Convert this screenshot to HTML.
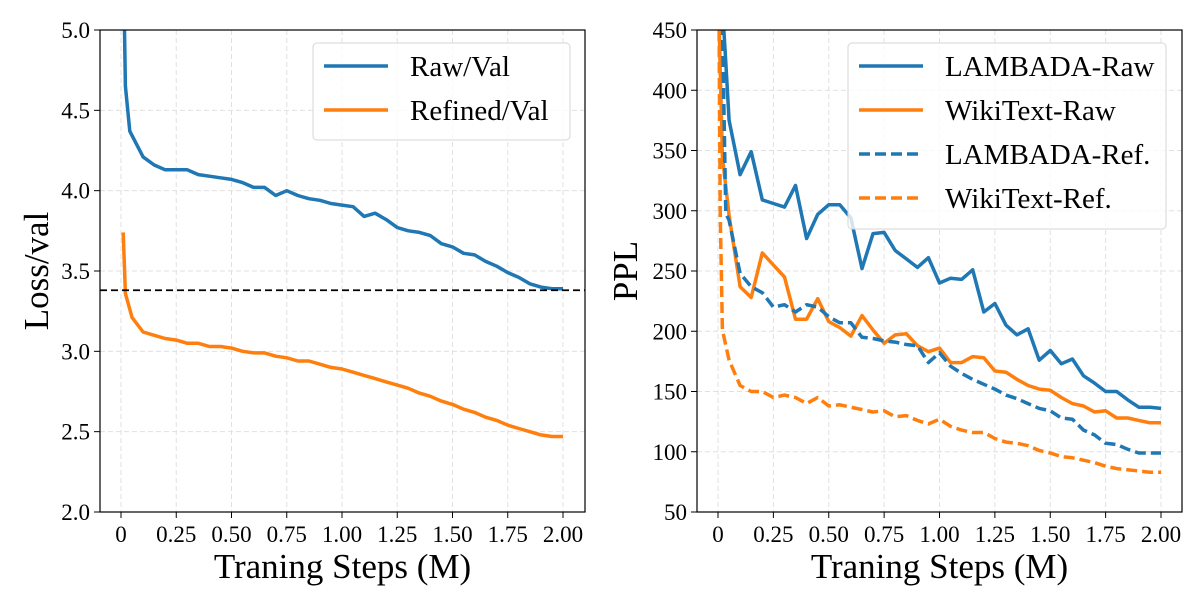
<!DOCTYPE html>
<html><head><meta charset="utf-8"><style>
html,body{margin:0;padding:0;background:#fff}
svg{display:block;font-family:"Liberation Serif",serif}
</style></head><body>
<svg id="c" width="1200" height="600" xmlns="http://www.w3.org/2000/svg">
<defs>
<clipPath id="clipL"><rect x="100" y="30" width="485" height="482"/></clipPath>
<clipPath id="clipR"><rect x="697" y="30" width="485" height="482"/></clipPath>
</defs>
</svg>
<script>
const xTickLabels = ["0","0.25","0.50","0.75","1.00","1.25","1.50","1.75","2.00"];
const xTickVals = [0,0.25,0.5,0.75,1.0,1.25,1.5,1.75,2.0];
const leftYTicks = [2.0,2.5,3.0,3.5,4.0,4.5,5.0];
const rightYTicks = [50,100,150,200,250,300,350,400,450];

const rawValX = [0.01,0.02,0.04,0.1,0.15,0.2,0.25,0.3,0.35,0.4,0.45,0.5,0.55,0.6,0.65,0.7,0.75,0.8,0.85,0.9,0.95,1.0,1.05,1.1,1.15,1.2,1.25,1.3,1.35,1.4,1.45,1.5,1.55,1.6,1.65,1.7,1.75,1.8,1.85,1.9,1.95,2.0];
const rawVal = [5.5,4.65,4.37,4.21,4.16,4.13,4.13,4.13,4.10,4.09,4.08,4.07,4.05,4.02,4.02,3.97,4.00,3.97,3.95,3.94,3.92,3.91,3.90,3.84,3.86,3.82,3.77,3.75,3.74,3.72,3.67,3.65,3.61,3.60,3.56,3.53,3.49,3.46,3.42,3.40,3.39,3.39];
const refinedValX = [0.01,0.02,0.05,0.1,0.15,0.2,0.25,0.3,0.35,0.4,0.45,0.5,0.55,0.6,0.65,0.7,0.75,0.8,0.85,0.9,0.95,1.0,1.05,1.1,1.15,1.2,1.25,1.3,1.35,1.4,1.45,1.5,1.55,1.6,1.65,1.7,1.75,1.8,1.85,1.9,1.95,2.0];
const refinedVal = [3.74,3.36,3.21,3.12,3.10,3.08,3.07,3.05,3.05,3.03,3.03,3.02,3.00,2.99,2.99,2.97,2.96,2.94,2.94,2.92,2.90,2.89,2.87,2.85,2.83,2.81,2.79,2.77,2.74,2.72,2.69,2.67,2.64,2.62,2.59,2.57,2.54,2.52,2.50,2.48,2.47,2.47];
const baselineLoss = 3.38;

const stepX = [0.1,0.15,0.2,0.25,0.3,0.35,0.4,0.45,0.5,0.55,0.6,0.65,0.7,0.75,0.8,0.85,0.9,0.95,1.0,1.05,1.1,1.15,1.2,1.25,1.3,1.35,1.4,1.45,1.5,1.55,1.6,1.65,1.7,1.75,1.8,1.85,1.9,1.95,2.0];
const lambadaRawEarlyX = [0.02,0.035,0.05];
const lambadaRawEarly = [470,423,375];
const lambadaRaw = [330,349,309,306,303,321,277,297,305,305,294,252,281,282,267,260,253,261,240,244,243,251,216,223,205,197,202,176,184,173,177,163,157,150,150,143,137,137,136];
const wikiRawEarlyX = [0.005,0.02,0.05];
const wikiRawEarly = [455,345,296];
const wikiRaw = [237,228,265,255,245,210,210,227,208,203,196,213,201,190,197,198,188,183,186,174,174,179,178,167,166,160,155,152,151,145,140,138,133,134,128,128,126,124,124];
const lambadaRefEarlyX = [0.02,0.035,0.05];
const lambadaRefEarly = [455,298,292];
const lambadaRef = [248,237,232,220,222,216,222,220,212,207,207,195,194,192,191,189,188,174,182,171,165,160,156,152,147,144,140,136,134,128,127,118,114,107,106,102,99,99,99];
const wikiRefEarlyX = [0.005,0.01,0.02,0.05];
const wikiRefEarly = [450,300,201,176];
const wikiRef = [155,150,150,145,147,145,140,145,138,139,137,135,133,134,129,130,126,123,127,121,118,116,116,111,108,107,105,101,99,96,95,93,91,88,86,85,84,83,83];

const svg = document.getElementById('c');
const NS = 'http://www.w3.org/2000/svg';
function mk(tag, attrs, parent){
  const e = document.createElementNS(NS, tag);
  for (const k in attrs) e.setAttribute(k, attrs[k]);
  (parent||svg).appendChild(e);
  return e;
}
const PT = 30, PB = 512;
const L = {x0:100, x1:585, xs:v=>121+v*221, ys:v=>512-(v-2.0)*160.67};
const R = {x0:697, x1:1182, xs:v=>718+v*221.5, ys:v=>512-(v-50)*1.205};

function axes(A, yTicks, yFmt, ylabel, side){
  const g = mk('g', {});
  
  
  xTickVals.forEach((v,i)=>{
    const x = A.xs(v);
    const gl = mk('line',{x1:x,x2:x,y1:PT,y2:PB,stroke:'#e0e0e0','stroke-width':1,'stroke-dasharray':'5,3'},g);
    
    
    mk('line',{x1:x,x2:x,y1:PB,y2:PB+6,stroke:'#000','stroke-width':1},g);
    const t = mk('text',{x:x,y:PB+30,'text-anchor':'middle','font-size':23,fill:'#000'},g);
    t.textContent = xTickLabels[i];
    
    
  });
  yTicks.forEach(v=>{
    const y = A.ys(v);
    const gl = mk('line',{x1:A.x0,x2:A.x1,y1:y,y2:y,stroke:'#e0e0e0','stroke-width':1,'stroke-dasharray':'5,3'},g);
    
    
    mk('line',{x1:A.x0-6,x2:A.x0,y1:y,y2:y,stroke:'#000','stroke-width':1},g);
    const t = mk('text',{x:A.x0-10,y:y+8,'text-anchor':'end','font-size':23,fill:'#000'},g);
    t.textContent = yFmt(v);
    
    
  });
  const xl = mk('text',{x:(A.x0+A.x1)/2,y:578,'text-anchor':'middle','font-size':35,fill:'#000'},g);
  xl.textContent = 'Traning Steps (M)';
  
  
  const yx = side==='left' ? 48 : 637;
  const yl = mk('text',{x:yx,y:271,'text-anchor':'middle','font-size':35,fill:'#000',transform:`rotate(-90 ${yx} 271)`},g);
  yl.textContent = ylabel;
  
  
}
function frame(A, side){
  const f = mk('rect',{x:A.x0,y:PT,width:A.x1-A.x0,height:PB-PT,fill:'none',stroke:'#000','stroke-width':1.2});
  
  
}
function series(A, xs, ys, color, dash, clip, name){
  const d = xs.map((x,i)=>(i?'L':'M')+A.xs(x).toFixed(1)+','+A.ys(ys[i]).toFixed(1)).join(' ');
  const p = mk('path',{d:d,fill:'none',stroke:color,'stroke-width':3.5,'stroke-linejoin':'round','clip-path':`url(#${clip})`});
  if (dash) p.setAttribute('stroke-dasharray', dash);
  
  
}
function legend(x,y,w,h,items,side){
  const g = mk('g',{});
  
  
  mk('rect',{x:x,y:y,width:w,height:h,rx:4,fill:'#fff','fill-opacity':0.8,stroke:'#d6d6d6','stroke-width':1},g);
  items.forEach((it,i)=>{
    const cy = y+23+i*44;
    const l = mk('line',{x1:x+11,x2:x+75,y1:cy,y2:cy,stroke:it.c,'stroke-width':3.5},g);
    if (it.d) l.setAttribute('stroke-dasharray', it.d);
    const t = mk('text',{x:x+97,y:cy+10,'font-size':29,fill:'#000'},g);
    t.textContent = it.t;
    
    
  });
}

const BLUE='#1f77b4', ORANGE='#ff7f0e', DASH='11,5';
axes(L, leftYTicks, v=>v.toFixed(1), 'Loss/val', 'left');
axes(R, rightYTicks, v=>String(v), 'PPL', 'right');

series(L, rawValX, rawVal, BLUE, null, 'clipL', 'raw-val-line');
series(L, refinedValX, refinedVal, ORANGE, null, 'clipL', 'refined-val-line');
const bl = mk('line',{x1:L.x0,x2:L.x1,y1:L.ys(baselineLoss),y2:L.ys(baselineLoss),stroke:'#000','stroke-width':1.8,'stroke-dasharray':'7,4'});



series(R, lambadaRawEarlyX.concat(stepX), lambadaRawEarly.concat(lambadaRaw), BLUE, null, 'clipR', 'lambada-raw-line');
series(R, wikiRawEarlyX.concat(stepX), wikiRawEarly.concat(wikiRaw), ORANGE, null, 'clipR', 'wikitext-raw-line');
series(R, lambadaRefEarlyX.concat(stepX), lambadaRefEarly.concat(lambadaRef), BLUE, DASH, 'clipR', 'lambada-ref-line');
series(R, wikiRefEarlyX.concat(stepX), wikiRefEarly.concat(wikiRef), ORANGE, DASH, 'clipR', 'wikitext-ref-line');

frame(L,'left'); frame(R,'right');
legend(313,43,257,97,[{t:'Raw/Val',c:BLUE},{t:'Refined/Val',c:ORANGE}],'left');
legend(848,43,318,186,[{t:'LAMBADA-Raw',c:BLUE},{t:'WikiText-Raw',c:ORANGE},{t:'LAMBADA-Ref.',c:BLUE,d:DASH},{t:'WikiText-Ref.',c:ORANGE,d:DASH}],'right');
</script>
</body></html>
